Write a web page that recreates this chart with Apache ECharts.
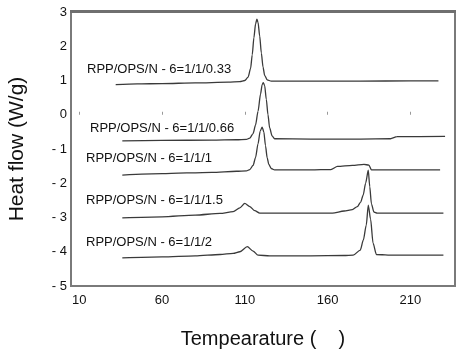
<!DOCTYPE html>
<html>
<head>
<meta charset="utf-8">
<script src="https://cdn.jsdelivr.net/npm/echarts@6/dist/echarts.min.js"></script>
<style>
html,body{margin:0;padding:0;background:#fff;}
#c{width:457px;height:358px;}
</style>
</head>
<body>
<div id="c"></div>
<script>
// ---- data ----
var xTicks = [10, 60, 110, 160, 210];
var seriesNames = [
  'RPP/OPS/N - 6=1/1/0.33',
  'RPP/OPS/N - 6=1/1/0.66',
  'RPP/OPS/N - 6=1/1/1',
  'RPP/OPS/N - 6=1/1/1.5',
  'RPP/OPS/N - 6=1/1/2'
];

var tA = [32, 45, 60, 80, 100, 107, 110, 112, 113.5, 114.5, 115.5, 116.5, 117.3, 118, 119, 120, 121, 122, 123.5, 126, 150, 180, 210, 227];
var vA = [0.88, 0.90, 0.91, 0.93, 0.95, 0.97, 1.00, 1.10, 1.35, 1.75, 2.25, 2.65, 2.79, 2.70, 2.30, 1.80, 1.40, 1.15, 1.02, 0.98, 0.98, 0.98, 0.99, 0.99];

var tB = [36, 60, 90, 105, 111, 113, 115, 116.5, 118, 119.5, 120.5, 121.2, 122, 123, 124, 125, 126.5, 128, 150, 180, 198, 202, 231];
var vB = [-0.76, -0.75, -0.74, -0.73, -0.72, -0.68, -0.55, -0.30, 0.10, 0.60, 0.88, 0.94, 0.85, 0.45, 0.0, -0.38, -0.62, -0.70, -0.71, -0.71, -0.70, -0.64, -0.63];

var tC = [36, 60, 90, 105, 111, 113, 115, 116.5, 118, 119.3, 120.5, 121.5, 122.5, 123.5, 124.5, 126, 128, 150, 162, 166, 175, 182, 185, 186.5, 200, 228];
var vC = [-1.76, -1.72, -1.68, -1.65, -1.64, -1.60, -1.48, -1.25, -0.85, -0.48, -0.36, -0.50, -0.90, -1.25, -1.45, -1.57, -1.61, -1.61, -1.60, -1.51, -1.48, -1.45, -1.47, -1.61, -1.61, -1.61];

var tD = [36, 60, 80, 95, 103, 107, 110, 113, 116, 119, 125, 150, 163, 170, 175, 178, 180, 181.5, 183, 184.6, 185.5, 186.5, 188, 190, 210, 230];
var vD = [-3.01, -2.98, -2.93, -2.88, -2.83, -2.72, -2.59, -2.68, -2.80, -2.87, -2.87, -2.87, -2.87, -2.81, -2.77, -2.68, -2.55, -2.35, -2.00, -1.62, -2.10, -2.60, -2.84, -2.87, -2.87, -2.87];

var tE = [36, 60, 80, 95, 103, 107, 111.5, 115, 118, 125, 150, 170, 175.5, 179.8, 181.6, 183.4, 184.6, 186, 187.5, 189.5, 200, 230];
var vE = [-4.18, -4.15, -4.12, -4.08, -4.05, -4.00, -3.85, -3.98, -4.10, -4.12, -4.12, -4.11, -4.10, -3.95, -3.66, -3.22, -2.64, -3.05, -3.75, -4.08, -4.10, -4.10];

var temps = [tA, tB, tC, tD, tE];
var vals = [vA, vB, vC, vD, vE];

function pairs(t, v) { return t.map(function (x, i) { return [x, v[i]]; }); }

var FONT = 'Liberation Sans, Arial, sans-serif';
var chart = echarts.init(document.getElementById('c'), null, { renderer: 'canvas' });

var series = temps.map(function (t, i) {
  return {
    name: seriesNames[i],
    type: 'line',
    data: pairs(t, vals[i]),
    showSymbol: false,
    smooth: 0.25,
    smoothMonotone: 'x',
    lineStyle: { color: '#3a3a3a', width: 1.3 },
    animation: false
  };
});

// annotation text layout (pixels)
var labelPos = [[87, 63], [90, 122], [86, 152], [86, 194], [86, 236]];
var graphics = seriesNames.map(function (n, i) {
  return {
    type: 'text', left: labelPos[i][0], top: labelPos[i][1],
    style: { text: n, font: '13px ' + FONT, fill: '#111' }
  };
});
// heavier top edge of the frame
graphics.push({
  type: 'rect', left: 70, top: 10, z: 10,
  shape: { width: 386, height: 3 },
  style: { fill: '#6f6f6f' }
});

chart.setOption({
  animation: false,
  backgroundColor: '#fff',
  grid: {
    left: 71, right: 2, top: 12, bottom: 72,
    show: true, borderColor: '#7a7a7a', borderWidth: 2,
    containLabel: false, outerBoundsMode: 'none'
  },
  xAxis: {
    type: 'value', min: 5, max: 237,
    name: 'Tempearature (    )', nameLocation: 'middle', nameGap: 43,
    nameTextStyle: { fontSize: 20, fontFamily: FONT, color: '#111' },
    axisLine: { show: false },
    splitLine: { show: false },
    axisTick: { show: true, inside: true, length: 3, customValues: xTicks, lineStyle: { color: '#999' } },
    axisLabel: { customValues: xTicks, fontSize: 13, fontFamily: FONT, color: '#111', margin: 8 }
  },
  yAxis: {
    type: 'value', min: -5, max: 3, interval: 1,
    name: 'Heat flow (W/g)', nameLocation: 'middle', nameGap: 43,
    nameTextStyle: { fontSize: 21, fontFamily: FONT, color: '#111' },
    axisLine: { show: false },
    splitLine: { show: false },
    axisTick: { show: false },
    axisLabel: {
      fontSize: 13, fontFamily: FONT, color: '#111', margin: 4,
      formatter: function (v) { return v < 0 ? '- ' + Math.abs(v) : String(v); }
    }
  },
  graphic: graphics,
  series: series
});
</script>
</body>
</html>
